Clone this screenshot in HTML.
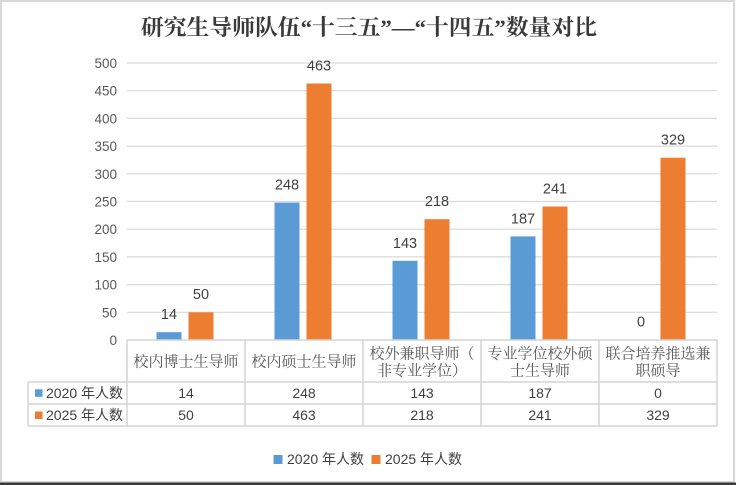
<!DOCTYPE html>
<html><head><meta charset="utf-8"><style>
html,body{margin:0;padding:0;background:#fff;}
svg{display:block;}
.sans{font-family:"Liberation Sans","Noto Sans CJK SC",sans-serif;}
.serif{font-family:"Liberation Serif","Noto Serif CJK SC",serif;}
</style></head><body>
<svg width="736" height="485" viewBox="0 0 736 485" xmlns="http://www.w3.org/2000/svg">
<rect x="0" y="0" width="736" height="485" fill="#fff"/>
<!-- outer border -->
<rect x="1" y="1" width="733" height="481" fill="none" stroke="#d9d9d9" stroke-width="2"/>
<rect x="0" y="482.5" width="736" height="2.5" fill="#3a3a3a"/>

<!-- title -->
<text x="369" y="35" text-anchor="middle" class="serif" font-size="22" font-weight="bold" fill="#3a3a3a" textLength="456" lengthAdjust="spacingAndGlyphs">研究生导师队伍“十三五”—“十四五”数量对比</text>

<!-- gridlines -->
<g stroke="#d9d9d9" stroke-width="1.2">
<line x1="127" x2="717" y1="63" y2="63"/>
<line x1="127" x2="717" y1="90.7" y2="90.7"/>
<line x1="127" x2="717" y1="118.4" y2="118.4"/>
<line x1="127" x2="717" y1="146.1" y2="146.1"/>
<line x1="127" x2="717" y1="173.8" y2="173.8"/>
<line x1="127" x2="717" y1="201.5" y2="201.5"/>
<line x1="127" x2="717" y1="229.2" y2="229.2"/>
<line x1="127" x2="717" y1="256.9" y2="256.9"/>
<line x1="127" x2="717" y1="284.6" y2="284.6"/>
<line x1="127" x2="717" y1="312.3" y2="312.3"/>
</g>

<!-- y tick labels -->
<g class="sans" font-size="13.5" fill="#595959" text-anchor="end">
<text x="117" y="68">500</text>
<text x="117" y="95.7">450</text>
<text x="117" y="123.4">400</text>
<text x="117" y="151.1">350</text>
<text x="117" y="178.8">300</text>
<text x="117" y="206.5">250</text>
<text x="117" y="234.2">200</text>
<text x="117" y="261.9">150</text>
<text x="117" y="289.6">100</text>
<text x="117" y="317.3">50</text>
<text x="117" y="345">0</text>
</g>

<!-- bars -->
<g fill="#5b9bd5">
<rect x="156.5" y="332.2" width="25" height="7.8"/>
<rect x="274.5" y="202.6" width="25" height="137.4"/>
<rect x="392.5" y="260.8" width="25" height="79.2"/>
<rect x="510.5" y="236.4" width="25" height="103.6"/>
</g>
<g fill="#ed7d31">
<rect x="188.5" y="312.3" width="25" height="27.7"/>
<rect x="306.5" y="83.5" width="25" height="256.5"/>
<rect x="424.5" y="219.2" width="25" height="120.8"/>
<rect x="542.5" y="206.5" width="25" height="133.5"/>
<rect x="660.5" y="157.7" width="25" height="182.3"/>
</g>

<!-- value labels -->
<g class="sans" font-size="14.5" fill="#404040" text-anchor="middle">
<text x="169" y="319">14</text>
<text x="201" y="299">50</text>
<text x="287" y="189.5">248</text>
<text x="319" y="70.5">463</text>
<text x="405" y="247.8">143</text>
<text x="437" y="206">218</text>
<text x="523" y="223.4">187</text>
<text x="555" y="193.5">241</text>
<text x="641" y="326.5">0</text>
<text x="673" y="144.7">329</text>
</g>

<!-- data table -->
<g stroke="#d4d4d4" stroke-width="1.5" fill="none">
<line x1="127" x2="717" y1="340" y2="340"/>
<line x1="28" x2="717" y1="382" y2="382"/>
<line x1="28" x2="717" y1="404" y2="404"/>
<line x1="28" x2="717" y1="426" y2="426"/>
<line x1="28" x2="28" y1="382" y2="426"/>
<line x1="127" x2="127" y1="340" y2="426"/>
<line x1="245" x2="245" y1="340" y2="426"/>
<line x1="363" x2="363" y1="340" y2="426"/>
<line x1="481" x2="481" y1="340" y2="426"/>
<line x1="599" x2="599" y1="340" y2="426"/>
<line x1="717" x2="717" y1="340" y2="426"/>
</g>

<!-- header labels -->
<g class="serif" font-size="15" fill="#595959" text-anchor="middle">
<text x="186" y="366.7">校内博士生导师</text>
<text x="304" y="366.7">校内硕士生导师</text>
<text x="422" y="358.4">校外兼职导师（</text>
<text x="422" y="375.7">非专业学位）</text>
<text x="540" y="358.4">专业学位校外硕</text>
<text x="540" y="375.7">士生导师</text>
<text x="658" y="358.4">联合培养推选兼</text>
<text x="658" y="375.7">职硕导</text>
</g>

<!-- row legend keys -->
<rect x="35" y="389.3" width="7.5" height="7.5" fill="#5b9bd5"/>
<rect x="35" y="411.5" width="7.5" height="7.5" fill="#ed7d31"/>
<g class="sans" font-size="14" fill="#404040">
<text x="46" y="398">2020 年人数</text>
<text x="46" y="420">2025 年人数</text>
</g>
<g class="sans" font-size="14" fill="#404040" text-anchor="middle">
<text x="186" y="398">14</text>
<text x="304" y="398">248</text>
<text x="422" y="398">143</text>
<text x="540" y="398">187</text>
<text x="658" y="398">0</text>
<text x="186" y="420">50</text>
<text x="304" y="420">463</text>
<text x="422" y="420">218</text>
<text x="540" y="420">241</text>
<text x="658" y="420">329</text>
</g>

<!-- bottom legend -->
<rect x="273.5" y="455" width="9" height="9" fill="#5b9bd5"/>
<text x="287" y="464" class="sans" font-size="14" fill="#404040">2020 年人数</text>
<rect x="371.5" y="455" width="9" height="9" fill="#ed7d31"/>
<text x="385" y="464" class="sans" font-size="14" fill="#404040">2025 年人数</text>
</svg>
</body></html>
